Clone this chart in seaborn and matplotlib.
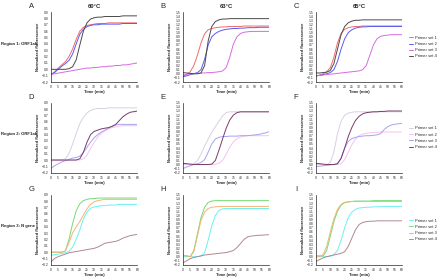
import numpy as np
import pandas as pd
import seaborn as sns
import matplotlib.pyplot as plt

# ---------------- 数据 ----------------
time_min = [0, 2.5, 5, 7.5, 10, 12.5, 15, 17.5, 20, 22.5, 25, 27.5, 30,
            32.5, 35, 37.5, 40, 42.5, 45, 47.5, 50, 52.5, 55, 57.5, 60]
primer_sets = ['Primer set 1', 'Primer set 2', 'Primer set 3', 'Primer set 4']
temps = ['60°C', '63°C', '65°C']
regions = ['Region 1: ORF1ab', 'Region 2: ORF1ab', 'Region 3: N gene']
letters = ['A', 'B', 'C', 'D', 'E', 'F', 'G', 'H', 'I']

# Region 1, 60°C (A)
a_set1 = [-0.08, -0.04, 0.02, 0.07, 0.12, 0.2, 0.32, 0.47, 0.6, 0.66, 0.69, 0.7, 0.71,
          0.72, 0.72, 0.72, 0.73, 0.73, 0.73, 0.73, 0.73, 0.73, 0.73, 0.73, 0.73]
a_set2 = [-0.08, -0.05, 0.0, 0.05, 0.09, 0.14, 0.24, 0.4, 0.55, 0.63, 0.67, 0.69, 0.7,
          0.7, 0.71, 0.71, 0.71, 0.71, 0.71, 0.71, 0.72, 0.72, 0.72, 0.72, 0.72]
a_set3 = [-0.08, -0.07, -0.06, -0.05, -0.04, -0.03, -0.02, -0.01, 0.0, 0.01, 0.02, 0.02, 0.03,
          0.03, 0.04, 0.04, 0.05, 0.05, 0.06, 0.06, 0.07, 0.07, 0.08, 0.09, 0.1]
a_set4 = [0.0, 0.0, 0.0, 0.0, 0.0, 0.01, 0.04, 0.15, 0.38, 0.6, 0.73, 0.79, 0.81,
          0.82, 0.82, 0.83, 0.83, 0.83, 0.83, 0.83, 0.84, 0.84, 0.84, 0.84, 0.84]

# Region 1, 63°C (B)
b_set1 = [-0.05, -0.02, 0.05, 0.2, 0.45, 0.75, 0.97, 1.07, 1.1, 1.12, 1.13, 1.14, 1.14,
          1.15, 1.15, 1.15, 1.15, 1.16, 1.16, 1.16, 1.16, 1.16, 1.16, 1.16, 1.16]
b_set2 = [-0.07, -0.05, -0.02, 0.0, 0.03, 0.1, 0.35, 0.7, 0.9, 0.98, 1.03, 1.06, 1.08,
          1.09, 1.1, 1.1, 1.11, 1.11, 1.12, 1.12, 1.12, 1.13, 1.13, 1.13, 1.13]
b_set3 = [-0.03, -0.01, 0.0, 0.01, 0.01, 0.02, 0.02, 0.03, 0.03, 0.04, 0.05, 0.07, 0.15,
          0.4, 0.72, 0.9, 0.98, 1.01, 1.02, 1.03, 1.03, 1.03, 1.03, 1.03, 1.03]
b_set4 = [0.03, 0.02, 0.01, 0.0, 0.0, 0.02, 0.2, 0.8, 1.15, 1.27, 1.31, 1.33, 1.33,
          1.34, 1.34, 1.34, 1.34, 1.34, 1.34, 1.34, 1.34, 1.34, 1.34, 1.34, 1.34]

# Region 1, 65°C (C)
c_set1 = [-0.05, -0.03, 0.0, 0.05, 0.15, 0.4, 0.75, 0.98, 1.08, 1.12, 1.14, 1.15, 1.15,
          1.16, 1.16, 1.16, 1.16, 1.16, 1.16, 1.16, 1.16, 1.16, 1.16, 1.16, 1.16]
c_set2 = [-0.05, -0.04, -0.02, 0.0, 0.03, 0.1, 0.3, 0.6, 0.85, 1.0, 1.07, 1.11, 1.13,
          1.14, 1.14, 1.15, 1.15, 1.15, 1.15, 1.15, 1.15, 1.15, 1.15, 1.15, 1.15]
c_set3 = [-0.05, -0.04, -0.03, -0.02, -0.01, 0.0, 0.01, 0.02, 0.03, 0.04, 0.05, 0.06, 0.07,
          0.1, 0.2, 0.45, 0.7, 0.85, 0.91, 0.93, 0.94, 0.95, 0.95, 0.95, 0.95]
c_set4 = [0.02, 0.02, 0.03, 0.04, 0.08, 0.25, 0.6, 0.95, 1.15, 1.24, 1.28, 1.3, 1.3,
          1.31, 1.31, 1.31, 1.31, 1.31, 1.31, 1.31, 1.31, 1.31, 1.31, 1.31, 1.31]

# Region 2, 60°C (D)
d_set1 = [0.0, 0.0, 0.0, 0.0, 0.02, 0.1, 0.25, 0.42, 0.57, 0.67, 0.74, 0.78, 0.8,
          0.81, 0.81, 0.81, 0.82, 0.82, 0.82, 0.82, 0.82, 0.82, 0.82, 0.82, 0.82]
d_set2 = [0.0, 0.0, 0.0, 0.0, 0.0, 0.0, 0.0, 0.0, 0.0, 0.02, 0.08, 0.18, 0.28,
          0.36, 0.42, 0.46, 0.49, 0.51, 0.52, 0.53, 0.54, 0.54, 0.54, 0.54, 0.54]
d_set3 = [-0.13, -0.09, -0.06, -0.03, -0.01, 0.01, 0.03, 0.04, 0.06, 0.12, 0.2, 0.28, 0.35,
          0.4, 0.44, 0.47, 0.5, 0.53, 0.55, 0.56, 0.56, 0.56, 0.56, 0.56, 0.56]
d_set4 = [0.0, 0.0, 0.0, 0.0, 0.0, 0.0, 0.0, 0.0, 0.02, 0.12, 0.28, 0.4, 0.45,
          0.47, 0.49, 0.5, 0.51, 0.53, 0.56, 0.62, 0.68, 0.72, 0.75, 0.76, 0.77]

# Region 2, 63°C (E)
e_set1 = [0.0, 0.0, 0.0, 0.02, 0.1, 0.25, 0.45, 0.62, 0.78, 0.92, 1.05, 1.18, 1.26,
          1.28, 1.28, 1.28, 1.28, 1.28, 1.28, 1.28, 1.28, 1.28, 1.28, 1.28, 1.28]
e_set2 = [0.0, 0.0, 0.0, 0.0, 0.0, 0.0, 0.0, 0.0, 0.0, 0.01, 0.03, 0.1, 0.25,
          0.42, 0.55, 0.63, 0.67, 0.69, 0.7, 0.7, 0.7, 0.7, 0.7, 0.7, 0.7]
e_set3 = [-0.1, -0.06, -0.03, 0.0, 0.02, 0.05, 0.12, 0.3, 0.5, 0.62, 0.66, 0.68, 0.68,
          0.69, 0.69, 0.69, 0.7, 0.7, 0.7, 0.71, 0.72, 0.73, 0.75, 0.77, 0.8]
e_set4 = [0.03, 0.02, 0.01, 0.0, 0.0, 0.0, 0.0, 0.0, 0.01, 0.1, 0.35, 0.62, 0.88,
          1.08, 1.2, 1.26, 1.28, 1.28, 1.28, 1.28, 1.28, 1.28, 1.28, 1.28, 1.28]

# Region 2, 65°C (F)
f_set1 = [0.0, 0.0, 0.0, 0.0, 0.05, 0.3, 0.75, 1.05, 1.2, 1.25, 1.27, 1.28, 1.28,
          1.28, 1.28, 1.28, 1.28, 1.28, 1.28, 1.28, 1.28, 1.28, 1.28, 1.28, 1.28]
f_set2 = [0.0, 0.0, 0.0, 0.0, 0.0, 0.0, 0.0, 0.02, 0.12, 0.3, 0.48, 0.62, 0.7,
          0.74, 0.76, 0.77, 0.78, 0.78, 0.79, 0.79, 0.79, 0.79, 0.79, 0.79, 0.79]
f_set3 = [-0.05, -0.04, -0.03, -0.02, -0.01, 0.0, 0.02, 0.15, 0.4, 0.56, 0.63, 0.66, 0.68,
          0.69, 0.7, 0.7, 0.71, 0.72, 0.75, 0.85, 0.92, 0.96, 0.98, 0.99, 1.0]
f_set4 = [0.03, 0.02, 0.01, 0.0, 0.0, 0.0, 0.02, 0.15, 0.4, 0.68, 0.9, 1.07, 1.17,
          1.23, 1.26, 1.27, 1.28, 1.28, 1.29, 1.29, 1.3, 1.3, 1.3, 1.3, 1.3]

# Region 3, 60°C (G)
g_set1 = [-0.05, -0.04, -0.03, -0.02, -0.01, 0.01, 0.08, 0.2, 0.35, 0.52, 0.63, 0.69, 0.71,
          0.72, 0.73, 0.73, 0.74, 0.74, 0.74, 0.75, 0.75, 0.75, 0.75, 0.75, 0.75]
g_set2 = [0.0, 0.0, 0.0, 0.0, 0.02, 0.2, 0.45, 0.65, 0.76, 0.81, 0.83, 0.84, 0.84,
          0.85, 0.85, 0.85, 0.85, 0.85, 0.85, 0.85, 0.85, 0.85, 0.85, 0.85, 0.85]
g_set3 = [0.0, 0.0, 0.0, 0.0, 0.02, 0.15, 0.3, 0.4, 0.48, 0.58, 0.68, 0.75, 0.79,
          0.81, 0.82, 0.83, 0.83, 0.83, 0.83, 0.83, 0.83, 0.83, 0.83, 0.83, 0.83]
g_set4 = [-0.15, -0.1, -0.07, -0.05, -0.03, -0.01, 0.0, 0.01, 0.02, 0.03, 0.04, 0.05, 0.06,
          0.08, 0.11, 0.14, 0.15, 0.16, 0.17, 0.19, 0.22, 0.24, 0.26, 0.27, 0.28]

# Region 3, 63°C (H)
h_set1 = [0.0, 0.0, 0.0, 0.0, 0.0, 0.01, 0.1, 0.4, 0.75, 1.0, 1.12, 1.16, 1.17,
          1.17, 1.17, 1.17, 1.17, 1.17, 1.17, 1.17, 1.17, 1.17, 1.17, 1.17, 1.17]
h_set2 = [0.03, 0.02, 0.0, 0.15, 0.55, 0.95, 1.2, 1.32, 1.35, 1.36, 1.36, 1.36, 1.36,
          1.36, 1.36, 1.36, 1.36, 1.36, 1.36, 1.36, 1.36, 1.36, 1.36, 1.36, 1.36]
h_set3 = [0.03, 0.02, 0.0, 0.12, 0.5, 0.88, 1.08, 1.17, 1.2, 1.21, 1.22, 1.22, 1.22,
          1.22, 1.22, 1.22, 1.22, 1.22, 1.22, 1.22, 1.22, 1.22, 1.22, 1.22, 1.22]
h_set4 = [-0.15, -0.1, -0.05, -0.02, 0.0, 0.02, 0.04, 0.05, 0.06, 0.07, 0.08, 0.09, 0.1,
          0.12, 0.15, 0.22, 0.32, 0.42, 0.48, 0.5, 0.51, 0.52, 0.52, 0.53, 0.53]

# Region 3, 65°C (I)
i_set1 = [0.0, 0.0, 0.0, 0.0, 0.01, 0.05, 0.15, 0.4, 0.7, 0.95, 1.08, 1.15, 1.18,
          1.19, 1.2, 1.2, 1.21, 1.21, 1.21, 1.22, 1.22, 1.22, 1.22, 1.22, 1.22]
i_set2 = [0.02, 0.02, 0.02, 0.15, 0.5, 0.85, 1.1, 1.25, 1.31, 1.33, 1.34, 1.35, 1.35,
          1.35, 1.35, 1.35, 1.36, 1.36, 1.36, 1.36, 1.36, 1.36, 1.36, 1.36, 1.36]
i_set3 = [0.0, 0.0, 0.05, 0.25, 0.6, 0.92, 1.15, 1.27, 1.32, 1.33, 1.34, 1.34, 1.34,
          1.34, 1.34, 1.34, 1.34, 1.34, 1.34, 1.34, 1.34, 1.34, 1.34, 1.34, 1.34]
i_set4 = [-0.12, -0.07, -0.03, 0.0, 0.02, 0.04, 0.06, 0.08, 0.12, 0.25, 0.45, 0.65, 0.78,
          0.83, 0.85, 0.86, 0.86, 0.87, 0.87, 0.87, 0.87, 0.87, 0.87, 0.87, 0.87]

panel_data = [
    [a_set1, a_set2, a_set3, a_set4], [b_set1, b_set2, b_set3, b_set4], [c_set1, c_set2, c_set3, c_set4],
    [d_set1, d_set2, d_set3, d_set4], [e_set1, e_set2, e_set3, e_set4], [f_set1, f_set2, f_set3, f_set4],
    [g_set1, g_set2, g_set3, g_set4], [h_set1, h_set2, h_set3, h_set4], [i_set1, i_set2, i_set3, i_set4],
]

# 每一行的颜色
row_palettes = [
    ['#f26b6b', '#5a5af2', '#d86ae2', '#4a4a4a'],
    ['#d8d0e2', '#f4c4ec', '#a4a4f4', '#7a3a6c'],
    ['#6cf0f0', '#72dc72', '#f4b478', '#b08890'],
]

# ---------------- 绘图 ----------------
sns.set_style('white')
plt.rcParams['font.family'] = ['Liberation Sans', 'DejaVu Sans']

fig = plt.figure(figsize=(4.4, 2.8), dpi=100)

lefts = [0.116, 0.416, 0.718]
bottoms = [0.707, 0.383, 0.054]
width, height = 0.196, 0.25

for r in range(3):
    for c in range(3):
        k = r * 3 + c
        ax = fig.add_axes([lefts[c], bottoms[r], width, height])
        rows = []
        for s, vals in enumerate(panel_data[k]):
            for t, v in zip(time_min, vals):
                rows.append({'Time (min)': t, 'value': v, 'set': primer_sets[s]})
        df = pd.DataFrame(rows)
        sns.lineplot(data=df, x='Time (min)', y='value', hue='set',
                     palette=row_palettes[r], linewidth=0.7, ax=ax,
                     legend=(c == 2))

        ax.set_xlim(0, 60)
        ax.set_xticks(np.arange(0, 61, 5))
        if c == 0:
            ax.set_ylim(-0.2, 0.9)
            ax.set_yticks(np.round(np.arange(-0.2, 0.91, 0.1), 1))
        else:
            ax.set_ylim(-0.2, 1.5)
            ax.set_yticks(np.round(np.arange(-0.2, 1.51, 0.1), 1))
        ax.tick_params(labelsize=2.4, length=1.2, width=0.4, pad=0.8)
        ax.set_xlabel('Time (min)', fontsize=3, labelpad=0.8, fontweight='bold')
        ax.set_ylabel('Normalized fluorescence', fontsize=3, labelpad=1, fontweight='bold')
        sns.despine(ax=ax)
        for sp in ax.spines.values():
            sp.set_linewidth(0.5)

        if r == 0:
            ax.set_title(temps[c], fontsize=4.2, fontweight='bold', pad=3)
        fig.text(lefts[c] - 0.045, bottoms[r] + height + 0.02,
                 letters[k], fontsize=5.5, ha='center', va='center')

        if c == 2:
            ax.legend(loc='center left', bbox_to_anchor=(1.06, 0.5), frameon=False,
                      fontsize=2.9, handlelength=1.1, handletextpad=0.5,
                      borderaxespad=0, labelspacing=0.55)

for r in range(3):
    fig.text(0.003, bottoms[r] + height * 0.55, regions[r], fontsize=3.1,
             fontweight='bold', ha='left', va='center')

fig.savefig('out.png', dpi=100)
